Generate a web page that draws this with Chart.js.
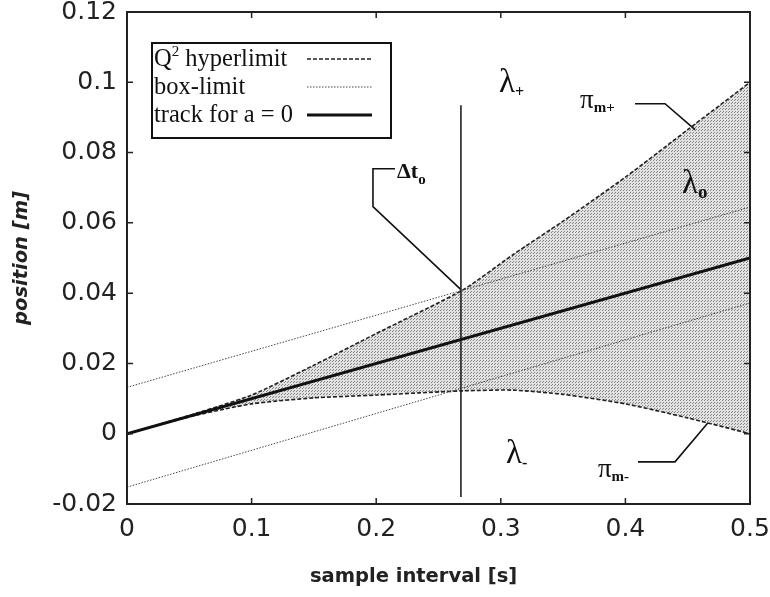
<!DOCTYPE html>
<html>
<head>
<meta charset="utf-8">
<script src="https://cdn.jsdelivr.net/npm/chart.js@4.4.1/dist/chart.umd.min.js"></script>
<style>
  html, body { margin: 0; padding: 0; background: #fff; }
</style>
</head>
<body>
<canvas id="chart" width="770" height="597"></canvas>
<script>
// ---- data ----
const sampleT   = [0, 0.05, 0.1, 0.15, 0.2, 0.27, 0.31, 0.35, 0.4, 0.45, 0.5]
const q2Upper   = [0, 0.0052, 0.011, 0.0195, 0.0285, 0.041, 0.051, 0.0605, 0.073, 0.0865, 0.1]
const q2Lower   = [0, 0.0048, 0.0085, 0.0102, 0.011, 0.0122, 0.0124, 0.0112, 0.0085, 0.0045, 0]

const lineT     = [0, 0.5]
const trackPos  = [0, 0.05]
const boxUpper  = [0.0132, 0.0645]
const boxLower  = [-0.0152, 0.0372]

const dtT       = [0.268, 0.268]
const dtPos     = [-0.018, 0.0935]

// leader lines of the callouts (t, position)
const leaderDt    = [[0.2151, 0.0754], [0.1974, 0.0754], [0.1974, 0.0646], [0.268, 0.041]]
const leaderPiTop = [[0.4077, 0.0939], [0.4318, 0.0939], [0.4559, 0.0865]]
const leaderPiBot = [[0.4101, -0.008], [0.4398, -0.008], [0.4663, 0.0031]]

// text labels: [t, position, main, sub]
const labels = [
    [0.2986, 0.0973, 'λ', '+'],
    [0.4454, 0.0686, 'λ', 'o'],
    [0.3042, -0.0083, 'λ', '-'],
    [0.3636, 0.0927, 'π', 'm+'],
    [0.3780, -0.0122, 'π', 'm-'],
    [0.2167, 0.0728, 'Δt', 'o']
]

const xTicks = [0, 0.1, 0.2, 0.3, 0.4, 0.5]
const xTickLabels = ['0', '0.1', '0.2', '0.3', '0.4', '0.5']
const yTicks = [-0.02, 0, 0.02, 0.04, 0.06, 0.08, 0.1, 0.12]
const yTickLabels = ['-0.02', '0', '0.02', '0.04', '0.06', '0.08', '0.1', '0.12']

const pts = (xs, ys) => xs.map((x, i) => ({ x: x, y: ys[i] }))
const pairs = arr => arr.map(p => ({ x: p[0], y: p[1] }))

// stipple fill like the printed figure
function makeStipple() {
    const c = document.createElement('canvas')
    c.width = 3
    c.height = 3
    const g = c.getContext('2d')
    g.fillStyle = '#e2e2e2'
    g.fillRect(0, 0, 3, 3)
    g.fillStyle = '#858585'
    g.fillRect(0, 0, 1, 1)
    g.fillRect(2, 1, 1, 1)
    return g.createPattern(c, 'repeat')
}

const SERIF = '"Liberation Serif", "Times New Roman", serif'
const SANS = '"DejaVu Sans", sans-serif'

function subText(ctx, x, y, main, sub, mainFont, subFont, drop) {
    ctx.font = mainFont
    ctx.fillText(main, x, y)
    const w = ctx.measureText(main).width
    ctx.font = subFont
    ctx.fillText(sub, x + w, y + drop)
}

const decor = {
    id: 'decor',
    afterDatasetsDraw(chart) {
        const { ctx, chartArea: a, scales: { x, y } } = chart
        ctx.save()
        ctx.fillStyle = '#111'
        ctx.textBaseline = 'alphabetic'
        ctx.textAlign = 'left'

        // callout texts
        labels.forEach(([t, p, main, sub]) => {
            const px = x.getPixelForValue(t)
            const py = y.getPixelForValue(p)
            if (main === 'λ') {
                const subFont = sub === 'o' ? 'bold 19px ' + SERIF : 'bold 16px ' + SERIF
                subText(ctx, px, py, main, sub, '33px ' + SERIF, subFont, 5)
            } else if (main === 'π') {
                subText(ctx, px, py, main, sub, '27px ' + SERIF, 'bold 15px ' + SERIF, 4)
            } else {
                subText(ctx, px, py, main, sub, 'bold 22px ' + SERIF, 'bold 15px ' + SERIF, 6)
            }
        })

        // legend box
        const lx = a.left + 25, ly = a.top + 31, lw = 239, lh = 95
        ctx.fillStyle = '#fff'
        ctx.fillRect(lx, ly, lw, lh)
        ctx.strokeStyle = '#111'
        ctx.lineWidth = 2
        ctx.strokeRect(lx, ly, lw, lh)

        const entries = [
            { idx: 3, text: 'Q', sup: '2', rest: ' hyperlimit' },
            { idx: 1, text: 'box-limit' },
            { idx: 0, text: 'track for a = 0' }
        ]
        entries.forEach((e, i) => {
            const base = ly + 23 + i * 28
            ctx.fillStyle = '#111'
            ctx.font = '24.5px ' + SERIF
            let tx = lx + 2
            ctx.fillText(e.text, tx, base)
            if (e.sup) {
                tx += ctx.measureText(e.text).width
                ctx.font = '15px ' + SERIF
                ctx.fillText(e.sup, tx, base - 10)
                tx += ctx.measureText(e.sup).width
                ctx.font = '24.5px ' + SERIF
                ctx.fillText(e.rest, tx, base)
            }
            const ds = chart.data.datasets[e.idx]
            ctx.strokeStyle = ds.borderColor
            ctx.lineWidth = ds.borderWidth
            ctx.setLineDash(ds.borderDash || [])
            ctx.beginPath()
            ctx.moveTo(lx + 155, base - 7)
            ctx.lineTo(lx + 220, base - 7)
            ctx.stroke()
            ctx.setLineDash([])
        })
        ctx.restore()
    },
    afterDraw(chart) {
        const { ctx, chartArea: a, scales: { x, y } } = chart
        ctx.save()
        ctx.strokeStyle = '#222'
        ctx.lineWidth = 2
        ctx.strokeRect(a.left, a.top, a.right - a.left, a.bottom - a.top)

        // inward ticks on all four sides
        ctx.lineWidth = 1.5
        ctx.beginPath()
        xTicks.forEach(v => {
            const px = x.getPixelForValue(v)
            ctx.moveTo(px, a.bottom); ctx.lineTo(px, a.bottom - 6)
            ctx.moveTo(px, a.top); ctx.lineTo(px, a.top + 6)
        })
        yTicks.forEach(v => {
            const py = y.getPixelForValue(v)
            ctx.moveTo(a.left, py); ctx.lineTo(a.left + 6, py)
            ctx.moveTo(a.right, py); ctx.lineTo(a.right - 6, py)
        })
        ctx.stroke()

        // axis titles
        ctx.fillStyle = '#222'
        ctx.textAlign = 'center'
        ctx.textBaseline = 'middle'
        ctx.font = 'bold 19.5px ' + SANS
        ctx.fillText('sample interval [s]', a.left + (a.right - a.left) * 0.46, 577)
        ctx.translate(22, (a.top + a.bottom) / 2)
        ctx.rotate(-Math.PI / 2)
        ctx.font = 'italic bold 19.5px ' + SANS
        ctx.fillText('position [m]', 0, 0)
        ctx.restore()
    }
}

const ctx = document.getElementById('chart').getContext('2d')
const stipple = makeStipple()

const chart = new Chart(ctx, {
    type: 'scatter',
    data: {
        datasets: [
            {
                label: 'track for a = 0',
                data: pts(lineT, trackPos),
                showLine: true,
                borderColor: '#111',
                borderWidth: 3,
                pointRadius: 0
            },
            {
                label: 'box-limit',
                data: pts(lineT, boxUpper),
                showLine: true,
                borderColor: '#444',
                borderWidth: 1,
                borderDash: [1.5, 1.5],
                pointRadius: 0
            },
            {
                label: 'box-limit (lower)',
                data: pts(lineT, boxLower),
                showLine: true,
                borderColor: '#444',
                borderWidth: 1,
                borderDash: [1.5, 1.5],
                pointRadius: 0
            },
            {
                label: 'Q2 hyperlimit',
                data: pts(sampleT, q2Upper),
                showLine: true,
                borderColor: '#222',
                borderWidth: 1.6,
                borderDash: [4, 2],
                pointRadius: 0,
                tension: 0.2,
                fill: '+1',
                backgroundColor: stipple
            },
            {
                label: 'Q2 hyperlimit (lower)',
                data: pts(sampleT, q2Lower),
                showLine: true,
                borderColor: '#222',
                borderWidth: 1.6,
                borderDash: [4, 2],
                pointRadius: 0,
                tension: 0.2
            },
            {
                label: 'Δt',
                data: pts(dtT, dtPos),
                showLine: true,
                borderColor: '#222',
                borderWidth: 1.6,
                pointRadius: 0
            },
            { label: 'leader Δt', data: pairs(leaderDt), showLine: true, borderColor: '#111', borderWidth: 1.6, pointRadius: 0 },
            { label: 'leader π m+', data: pairs(leaderPiTop), showLine: true, borderColor: '#111', borderWidth: 1.6, pointRadius: 0 },
            { label: 'leader π m-', data: pairs(leaderPiBot), showLine: true, borderColor: '#111', borderWidth: 1.6, pointRadius: 0 }
        ]
    },
    options: {
        responsive: false,
        animation: false,
        layout: { padding: { top: 12, right: 20, bottom: 0, left: 0 } },
        plugins: {
            legend: { display: false },
            tooltip: { enabled: false },
            filler: { drawTime: 'beforeDatasetsDraw' }
        },
        scales: {
            x: {
                type: 'linear',
                min: 0,
                max: 0.5,
                grid: { display: false, drawTicks: false },
                border: { display: false },
                afterBuildTicks: s => { s.ticks = xTicks.map(v => ({ value: v })) },
                afterFit: s => { s.height = 93; s.paddingLeft = 0; s.paddingRight = 0 },
                ticks: {
                    autoSkip: false,
                    maxRotation: 0,
                    padding: 10,
                    color: '#222',
                    font: { family: SANS, size: 25, lineHeight: 1.2 },
                    callback: v => xTickLabels[xTicks.indexOf(v)]
                }
            },
            y: {
                type: 'linear',
                min: -0.02,
                max: 0.12,
                grid: { display: false, drawTicks: false },
                border: { display: false },
                afterBuildTicks: s => { s.ticks = yTicks.map(v => ({ value: v })) },
                afterFit: s => { s.width = 127; s.paddingTop = 0; s.paddingBottom = 0 },
                ticks: {
                    autoSkip: false,
                    padding: 10,
                    color: '#222',
                    font: { family: SANS, size: 25, lineHeight: 0.9 },
                    callback: v => yTickLabels[yTicks.indexOf(v)]
                }
            }
        }
    },
    plugins: [decor]
})
</script>
</body>
</html>
